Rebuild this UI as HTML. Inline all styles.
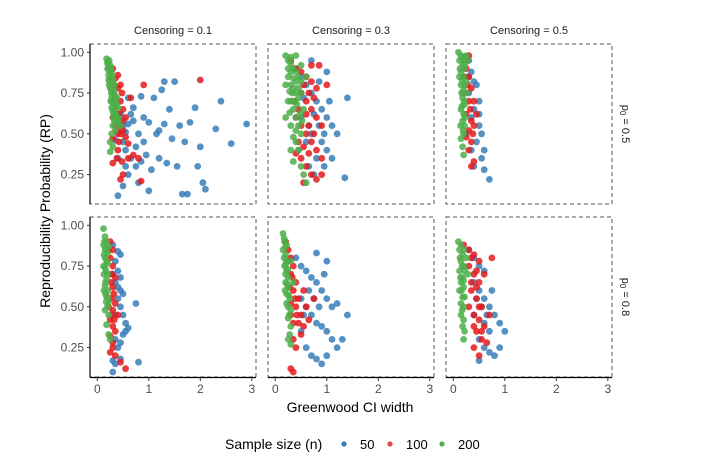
<!DOCTYPE html>
<html><head><meta charset="utf-8"><style>
html,body{margin:0;padding:0;background:#fff;}
svg{display:block;font-family:"Liberation Sans",Arial,sans-serif;}
</style></head><body>
<svg id="chart" width="720" height="468" viewBox="0 0 720 468">
<g id="panels"></g>
<g id="axes"></g>
<text x="50" y="211" transform="rotate(-90 50 211)" text-anchor="middle" font-size="14" fill="#000">Reproducibility Probability (RP)</text>
<text x="350" y="412" text-anchor="middle" font-size="14" fill="#000">Greenwood CI width</text>
<g>
<text x="225" y="449" font-size="14" fill="#000">Sample size (n)</text>
<g><circle cx="344" cy="444" r="2.6" fill="#377eb8"/><text x="360" y="449" font-size="13">50</text></g>
<g><circle cx="390" cy="444" r="2.6" fill="#e41a1c" opacity="0.8"/><text x="406" y="449" font-size="13">100</text></g>
<g><circle cx="442" cy="444" r="2.6" fill="#4daf4a"/><text x="458" y="449" font-size="13">200</text></g>
</g>
</svg>
<script>
const censoringLevels = ["0.1","0.3","0.5"];
const p0Levels = ["0.5","0.8"];
const seriesNames = ["50","100","200"];
const yTicks = [1.00,0.75,0.50,0.25];
const xTicks = [0,1,2,3];
// points as [ci width, RP]
const pA_50 = [[0.35,0.46],[0.45,0.62],[0.5,0.55],[0.55,0.4],[0.6,0.72],[0.65,0.35],[0.7,0.58],[0.75,0.3],[0.8,0.5],[0.85,0.73],[0.9,0.45],[0.95,0.37],[1.0,0.57],[1.05,0.28],[1.1,0.72],[1.15,0.5],[1.2,0.35],[1.25,0.77],[1.3,0.56],[1.35,0.32],[1.4,0.65],[1.45,0.47],[1.5,0.82],[1.55,0.3],[1.6,0.55],[1.7,0.45],[1.75,0.13],[1.8,0.57],[1.9,0.66],[1.95,0.3],[2.0,0.42],[2.05,0.2],[2.1,0.16],[2.3,0.53],[2.4,0.7],[2.6,0.44],[2.9,0.56],[0.4,0.12],[0.5,0.18],[0.8,0.2],[1.0,0.15],[0.6,0.25],[0.7,0.66],[0.9,0.6],[1.2,0.52],[1.3,0.82],[0.55,0.51],[1.65,0.13],[0.45,0.58],[0.6,0.56],[0.75,0.42],[0.5,0.45],[0.65,0.62],[0.85,0.33],[0.4,0.35],[0.55,0.3]];
const pA_100 = [[0.3,0.9],[0.35,0.84],[0.4,0.78],[0.45,0.7],[0.5,0.65],[0.35,0.55],[0.4,0.5],[0.45,0.55],[0.5,0.52],[0.3,0.6],[0.42,0.45],[0.55,0.48],[0.6,0.44],[0.38,0.35],[0.48,0.33],[0.6,0.35],[0.7,0.37],[0.9,0.8],[0.65,0.72],[0.3,0.32],[0.5,0.25],[0.45,0.22],[0.85,0.21],[2.0,0.83],[0.55,0.6],[0.35,0.65],[0.45,0.8],[0.8,0.35],[0.3,0.47],[0.4,0.4],[0.38,0.52],[0.45,0.5],[0.5,0.58],[0.42,0.62],[0.35,0.72],[0.32,0.8],[0.48,0.75],[0.4,0.86]];
const pA_200 = [[0.18,0.96],[0.2,0.93],[0.22,0.9],[0.25,0.92],[0.28,0.88],[0.22,0.86],[0.25,0.82],[0.3,0.85],[0.27,0.78],[0.3,0.75],[0.33,0.8],[0.28,0.72],[0.32,0.68],[0.35,0.7],[0.3,0.64],[0.36,0.62],[0.4,0.66],[0.33,0.58],[0.38,0.56],[0.3,0.55],[0.42,0.58],[0.28,0.5],[0.35,0.52],[0.25,0.45],[0.3,0.42],[0.25,0.39],[0.2,0.94],[0.24,0.88],[0.34,0.74],[0.38,0.72],[0.26,0.84],[0.4,0.6],[0.45,0.55],[0.23,0.8],[0.31,0.6],[0.2,0.9],[0.23,0.95],[0.26,0.9],[0.29,0.82],[0.32,0.77],[0.27,0.75],[0.3,0.7],[0.34,0.65],[0.37,0.68],[0.26,0.7],[0.32,0.62],[0.36,0.58],[0.28,0.66],[0.22,0.83],[0.25,0.78]];
const pB_50 = [[0.4,0.9],[0.5,0.85],[0.6,0.8],[0.7,0.75],[0.8,0.7],[0.9,0.65],[1.0,0.6],[1.1,0.55],[1.2,0.5],[1.4,0.72],[1.35,0.23],[1.0,0.4],[0.9,0.45],[0.8,0.35],[0.7,0.5],[0.6,0.45],[0.5,0.6],[0.65,0.3],[0.75,0.25],[1.05,0.7],[0.55,0.72],[0.85,0.55],[0.95,0.3],[1.1,0.35],[0.45,0.4],[0.7,0.95],[1.0,0.88],[0.75,0.62],[0.85,0.82],[0.65,0.55],[0.95,0.5]];
const pB_100 = [[0.3,0.95],[0.4,0.9],[0.5,0.88],[0.6,0.85],[0.7,0.82],[0.8,0.78],[0.5,0.75],[0.6,0.7],[0.7,0.65],[0.8,0.6],[0.9,0.55],[0.4,0.6],[0.5,0.55],[0.6,0.5],[0.7,0.45],[0.8,0.4],[0.9,0.35],[0.5,0.35],[0.6,0.3],[0.7,0.25],[0.8,0.22],[0.55,0.2],[0.45,0.45],[0.65,0.55],[0.75,0.72],[0.85,0.92],[1.0,0.8],[0.35,0.7],[0.4,0.38],[0.9,0.25],[0.55,0.8],[0.65,0.75],[0.75,0.5],[0.45,0.65],[0.55,0.42],[0.65,0.38],[0.7,0.92],[0.6,0.62]];
const pB_200 = [[0.2,0.98],[0.25,0.95],[0.3,0.93],[0.35,0.9],[0.4,0.88],[0.45,0.85],[0.5,0.82],[0.25,0.85],[0.3,0.8],[0.35,0.78],[0.4,0.75],[0.45,0.72],[0.2,0.8],[0.3,0.7],[0.35,0.65],[0.4,0.6],[0.45,0.55],[0.5,0.5],[0.3,0.55],[0.35,0.48],[0.4,0.45],[0.45,0.4],[0.3,0.4],[0.35,0.33],[0.5,0.3],[0.55,0.25],[0.6,0.2],[0.55,0.65],[0.5,0.92],[0.25,0.7],[0.2,0.6],[0.6,0.85],[0.4,0.98],[0.28,0.63],[0.3,0.97],[0.35,0.84],[0.4,0.82],[0.45,0.78],[0.5,0.75],[0.3,0.88],[0.38,0.7],[0.42,0.68],[0.48,0.62],[0.25,0.9],[0.33,0.75],[0.28,0.76],[0.4,0.52],[0.52,0.58]];
const pC_50 = [[0.3,0.95],[0.35,0.88],[0.4,0.82],[0.45,0.8],[0.3,0.75],[0.5,0.7],[0.4,0.65],[0.35,0.6],[0.5,0.55],[0.55,0.5],[0.45,0.45],[0.6,0.4],[0.55,0.35],[0.6,0.28],[0.7,0.22],[0.35,0.4],[0.4,0.3],[0.25,0.5],[0.3,0.85],[0.5,0.62]];
const pC_100 = [[0.2,0.95],[0.25,0.9],[0.3,0.85],[0.35,0.78],[0.2,0.75],[0.3,0.7],[0.25,0.62],[0.35,0.58],[0.3,0.52],[0.4,0.55],[0.25,0.48],[0.35,0.45],[0.3,0.4],[0.4,0.33],[0.35,0.3],[0.45,0.62],[0.4,0.7],[0.3,0.98],[0.28,0.8],[0.33,0.65],[0.22,0.85],[0.38,0.5]];
const pC_200 = [[0.1,1.0],[0.15,0.98],[0.2,0.97],[0.12,0.95],[0.18,0.92],[0.22,0.9],[0.15,0.88],[0.2,0.85],[0.25,0.82],[0.15,0.8],[0.2,0.77],[0.18,0.72],[0.22,0.68],[0.15,0.65],[0.2,0.62],[0.18,0.58],[0.22,0.55],[0.2,0.5],[0.15,0.47],[0.18,0.42],[0.2,0.37],[0.25,0.98],[0.28,0.95],[0.12,0.85],[0.25,0.75],[0.17,0.96],[0.23,0.93],[0.13,0.9],[0.17,0.83],[0.22,0.8],[0.16,0.75],[0.21,0.7],[0.17,0.67],[0.23,0.6],[0.14,0.55],[0.19,0.52]];
const pD_50 = [[0.3,0.88],[0.4,0.84],[0.45,0.82],[0.35,0.78],[0.4,0.72],[0.35,0.65],[0.45,0.6],[0.5,0.58],[0.4,0.55],[0.45,0.5],[0.5,0.45],[0.75,0.52],[0.55,0.4],[0.6,0.37],[0.5,0.33],[0.35,0.3],[0.4,0.25],[0.3,0.17],[0.35,0.15],[0.45,0.18],[0.3,0.1],[0.8,0.16],[0.55,0.35],[0.45,0.28],[0.4,0.62],[0.45,0.68],[0.35,0.45],[0.3,0.7]];
const pD_100 = [[0.25,0.9],[0.3,0.85],[0.25,0.8],[0.3,0.75],[0.28,0.7],[0.3,0.62],[0.28,0.55],[0.3,0.48],[0.25,0.42],[0.3,0.38],[0.35,0.35],[0.25,0.32],[0.3,0.28],[0.25,0.22],[0.35,0.2],[0.45,0.16],[0.55,0.12],[0.4,0.45],[0.35,0.52],[0.35,0.68],[0.22,0.85],[0.27,0.65],[0.32,0.58],[0.28,0.45],[0.33,0.42],[0.22,0.5],[0.3,0.25]];
const pD_200 = [[0.12,0.98],[0.15,0.93],[0.18,0.9],[0.12,0.88],[0.15,0.85],[0.2,0.83],[0.15,0.8],[0.2,0.77],[0.15,0.74],[0.2,0.7],[0.18,0.67],[0.15,0.63],[0.2,0.6],[0.18,0.56],[0.22,0.53],[0.2,0.5],[0.15,0.48],[0.22,0.45],[0.18,0.39],[0.22,0.33],[0.25,0.3],[0.12,0.75],[0.22,0.87],[0.14,0.9],[0.17,0.86],[0.13,0.82],[0.18,0.78],[0.13,0.7],[0.17,0.72],[0.16,0.65],[0.13,0.6],[0.17,0.53],[0.2,0.56],[0.16,0.58]];
const pE_50 = [[0.4,0.8],[0.5,0.75],[0.6,0.72],[0.7,0.68],[0.8,0.65],[0.9,0.6],[1.0,0.55],[1.1,0.5],[1.2,0.52],[1.4,0.45],[0.5,0.55],[0.6,0.5],[0.7,0.45],[0.8,0.4],[0.9,0.38],[1.0,0.35],[1.1,0.3],[1.3,0.3],[0.6,0.25],[0.7,0.2],[0.8,0.18],[0.9,0.15],[1.0,0.2],[1.2,0.25],[0.5,0.35],[0.8,0.83],[1.0,0.78],[0.95,0.7],[0.65,0.6],[0.75,0.55],[0.55,0.45],[0.85,0.5]];
const pE_100 = [[0.2,0.9],[0.25,0.85],[0.3,0.8],[0.35,0.75],[0.3,0.7],[0.4,0.65],[0.35,0.6],[0.45,0.55],[0.4,0.5],[0.5,0.45],[0.45,0.4],[0.55,0.38],[0.5,0.33],[0.35,0.3],[0.4,0.25],[0.3,0.12],[0.35,0.1],[0.6,0.5],[0.55,0.6],[0.65,0.42],[0.75,0.55],[0.3,0.45],[0.25,0.78],[0.33,0.68],[0.38,0.55],[0.42,0.45],[0.3,0.52],[0.35,0.4],[0.28,0.62]];
const pE_200 = [[0.15,0.95],[0.18,0.9],[0.2,0.87],[0.15,0.85],[0.2,0.82],[0.22,0.78],[0.18,0.75],[0.22,0.72],[0.25,0.68],[0.2,0.65],[0.25,0.62],[0.22,0.58],[0.28,0.55],[0.25,0.5],[0.3,0.48],[0.25,0.43],[0.3,0.38],[0.28,0.33],[0.25,0.3],[0.3,0.27],[0.35,0.65],[0.3,0.78],[0.17,0.92],[0.22,0.88],[0.17,0.8],[0.2,0.76],[0.24,0.73],[0.2,0.7],[0.23,0.64],[0.19,0.6],[0.26,0.57],[0.22,0.52],[0.27,0.45]];
const pF_50 = [[0.3,0.85],[0.4,0.8],[0.5,0.75],[0.6,0.72],[0.4,0.65],[0.5,0.6],[0.6,0.55],[0.7,0.5],[0.8,0.45],[0.9,0.4],[1.0,0.35],[0.6,0.4],[0.7,0.35],[0.5,0.3],[0.6,0.25],[0.7,0.22],[0.8,0.2],[0.5,0.17],[0.9,0.25],[0.4,0.45],[0.75,0.6],[0.55,0.5],[0.65,0.45],[0.45,0.55]];
const pF_100 = [[0.2,0.88],[0.3,0.85],[0.4,0.82],[0.5,0.78],[0.3,0.75],[0.4,0.7],[0.5,0.65],[0.35,0.6],[0.45,0.55],[0.55,0.5],[0.4,0.45],[0.5,0.42],[0.6,0.38],[0.45,0.35],[0.55,0.3],[0.65,0.28],[0.4,0.25],[0.5,0.2],[0.7,0.45],[0.6,0.7],[0.3,0.5],[0.75,0.8],[0.35,0.8],[0.45,0.72],[0.35,0.65],[0.5,0.5],[0.4,0.38],[0.45,0.62],[0.55,0.35]];
const pF_200 = [[0.1,0.9],[0.15,0.88],[0.12,0.85],[0.18,0.82],[0.15,0.78],[0.2,0.75],[0.12,0.72],[0.18,0.68],[0.15,0.65],[0.2,0.62],[0.12,0.6],[0.18,0.56],[0.15,0.52],[0.2,0.5],[0.15,0.45],[0.2,0.42],[0.18,0.38],[0.22,0.35],[0.2,0.3],[0.25,0.8],[0.28,0.7],[0.13,0.8],[0.17,0.75],[0.22,0.72],[0.14,0.68],[0.2,0.66],[0.16,0.6],[0.22,0.56],[0.17,0.48],[0.2,0.85]];

const panelData = [
  [[pA_50,pA_100,pA_200],[pB_50,pB_100,pB_200],[pC_50,pC_100,pC_200]],
  [[pD_50,pD_100,pD_200],[pE_50,pE_100,pE_200],[pF_50,pF_100,pF_200]]
];
const colors = ["#377eb8","#e41a1c","#4daf4a"];
const NS = "http://www.w3.org/2000/svg";
const colLeft = [90,268,446], panelW = 166;
const rowTop = [44,217], panelH = 160;
function xScale(col, v){ return colLeft[col] + 7.3 + v*51.5; }
function yScale(row, v){ return rowTop[row] + 8.3 + (1-v)*163; }
function mk(tag, attrs, parent){ const e=document.createElementNS(NS,tag); for(const k in attrs) e.setAttribute(k,attrs[k]); parent.appendChild(e); return e; }
const panels = document.getElementById('panels');
const axes = document.getElementById('axes');
for(let r=0;r<2;r++){
  for(let c=0;c<3;c++){
    const g = mk('g',{},panels);
    
    
    const rect = mk('rect',{x:colLeft[c],y:rowTop[r],width:panelW,height:panelH,fill:'none',stroke:'#555','stroke-dasharray':'4,3','stroke-width':1},g);
    
    
    for(let s=0;s<3;s++){
      panelData[r][c][s].forEach(p=>{
        const pt = mk('circle',{cx:xScale(c,p[0]).toFixed(1),cy:yScale(r,p[1]).toFixed(1),r:3.4,fill:colors[s],'fill-opacity':0.85},g);
        
        
      });
    }
  }
  const yl = mk('line',{x1:90,x2:90,y1:rowTop[r],y2:rowTop[r]+panelH,stroke:'#000','stroke-width':1.2},axes);
  
  
  yTicks.forEach(v=>{
    const y = yScale(r,v);
    mk('line',{x1:87,x2:90,y1:y,y2:y,stroke:'#333'},axes);
    const t = mk('text',{x:84,y:y+4,'text-anchor':'end','font-size':12,fill:'#4d4d4d'},axes);
    t.textContent = v.toFixed(2);
    
    
  });
  const st = mk('text',{x:622,y:rowTop[r]+panelH/2,'font-size':11,fill:'#1a1a1a','text-anchor':'middle',transform:'rotate(90 622 '+(rowTop[r]+panelH/2)+')'},axes);
  st.innerHTML = 'p<tspan font-size="8" dy="2">0</tspan><tspan dy="-2"> = '+p0Levels[r]+'</tspan>';
  
  
}
for(let c=0;c<3;c++){
  const xl = mk('line',{x1:colLeft[c],x2:colLeft[c]+panelW,y1:377.5,y2:377.5,stroke:'#000','stroke-width':1.2},axes);
  
  
  xTicks.forEach(v=>{
    const x = xScale(c,v);
    mk('line',{x1:x,x2:x,y1:377,y2:381,stroke:'#333'},axes);
    const t = mk('text',{x:x,y:393,'text-anchor':'middle','font-size':12,fill:'#4d4d4d'},axes);
    t.textContent = v;
    
    
  });
  const st = mk('text',{x:colLeft[c]+panelW/2,y:34,'text-anchor':'middle','font-size':11,fill:'#1a1a1a'},axes);
  st.textContent = 'Censoring = '+censoringLevels[c];
  
  
}
</script>
</body></html>
